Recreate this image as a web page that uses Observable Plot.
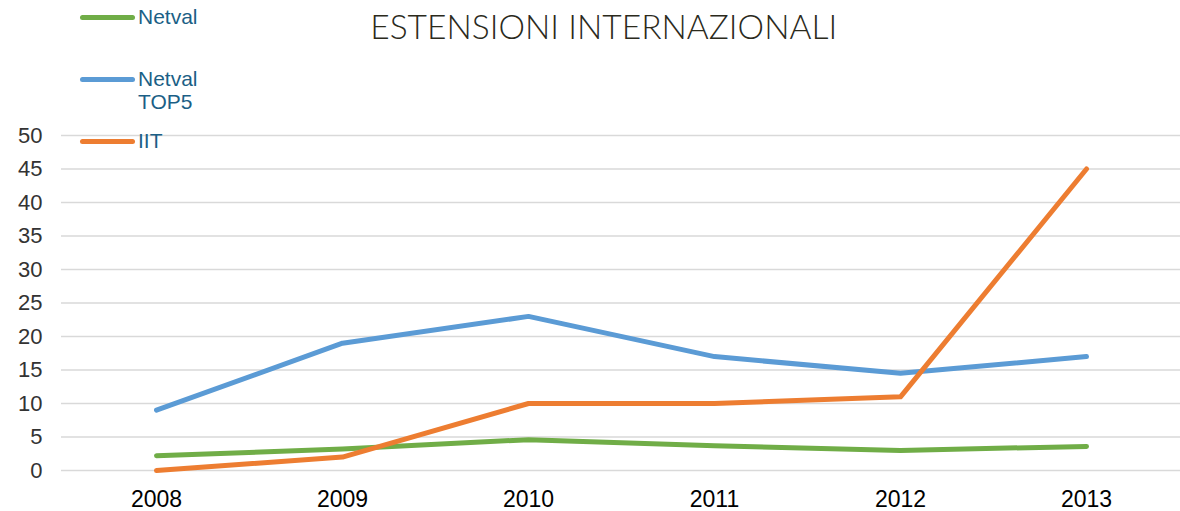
<!DOCTYPE html>
<html>
<head>
<meta charset="utf-8">
<script src="https://cdn.jsdelivr.net/npm/d3@7"></script>
<script src="https://cdn.jsdelivr.net/npm/@observablehq/plot@0.6"></script>
<style>
  html, body { margin: 0; padding: 0; background: #fff; }
  #wrap { position: relative; width: 1180px; height: 511px; overflow: hidden; }
  #chart { position: absolute; left: 0; top: 0; }
  #title { position: absolute; top: 5px; left: 13.5px; width: 1180px; text-align: center;
           font-family: Lato, "Open Sans", sans-serif; font-weight: 300; font-size: 34px; color: #2b2a1c; white-space: nowrap; }
  #title span { display: inline-block; transform-origin: center; }
  .leg { position: absolute; left: 80px; font-family: "Liberation Sans", Arial, sans-serif;
         font-size: 21px; line-height: 23px; color: #1b5f86; }
  .leg .sw { position: absolute; left: 0; width: 55px; height: 5px; border-radius: 3px; }
  .leg .lab { position: absolute; left: 58px; white-space: nowrap; }
</style>
</head>
<body>
<div id="wrap">
  <div id="chart"></div>
  <div id="title"><span>ESTENSIONI INTERNAZIONALI</span></div>
  <div id="legend"></div>
</div>
<script>
const years = ["2008", "2009", "2010", "2011", "2012", "2013"];
const netval = [2.2, 3.2, 4.6, 3.7, 3.0, 3.6];
const netvalTop5 = [9, 19, 23, 17, 14.5, 17];
const iit = [0, 2, 10, 10, 11, 45];
const yTicks = [0, 5, 10, 15, 20, 25, 30, 35, 40, 45, 50];
const seriesNames = ["Netval", "Netval TOP5", "IIT"];
const seriesColors = ["#70ad47", "#5b9bd5", "#ed7d31"];

const seriesValues = [netval, netvalTop5, iit];
const rows = [];
seriesNames.forEach((name, i) => {
  years.forEach((yr, j) => rows.push({series: name, year: yr, value: seriesValues[i][j]}));
});

const chart = Plot.plot({
  width: 1180,
  height: 511,
  marginTop: 135,
  marginBottom: 41,
  marginLeft: 61,
  marginRight: 0,
  style: {fontFamily: "'Liberation Sans', Arial, sans-serif", background: "#fff"},
  x: {type: "point", domain: years, padding: 0.5},
  y: {domain: [0, 50]},
  color: {domain: seriesNames, range: seriesColors},
  marks: [
    Plot.ruleY(yTicks, {stroke: "#d9d9d9", strokeWidth: 1.5, strokeOpacity: 1}),
    Plot.axisY({ticks: yTicks, tickSize: 0, tickPadding: 19, fontSize: 22, fill: "#333", label: null}),
    Plot.axisX({tickSize: 0, tickPadding: 20, fontSize: 23, fill: "#000", label: null}),
    Plot.lineY(rows, {x: "year", y: "value", z: "series", stroke: "series",
      strokeWidth: 5, strokeLinecap: "round", strokeLinejoin: "round"})
  ]
});
document.getElementById("chart").appendChild(chart);

// legend (HTML overlay)
const legendTops = [17, 79, 141];
const legendLabels = ["Netval", "Netval<br>TOP5", "IIT"];
const legend = document.getElementById("legend");
seriesNames.forEach((name, i) => {
  const d = document.createElement("div");
  d.className = "leg";
  d.style.top = legendTops[i] + "px";
  d.innerHTML = `<div class="sw" style="top:-2.5px;background:${seriesColors[i]}"></div>` +
                `<div class="lab" style="top:-12px">${legendLabels[i]}</div>`;
  legend.appendChild(d);
});

// fit title width
const span = document.querySelector("#title span");
const w = span.getBoundingClientRect().width;
span.style.transform = `scaleX(${467 / w})`;
</script>
</body>
</html>
